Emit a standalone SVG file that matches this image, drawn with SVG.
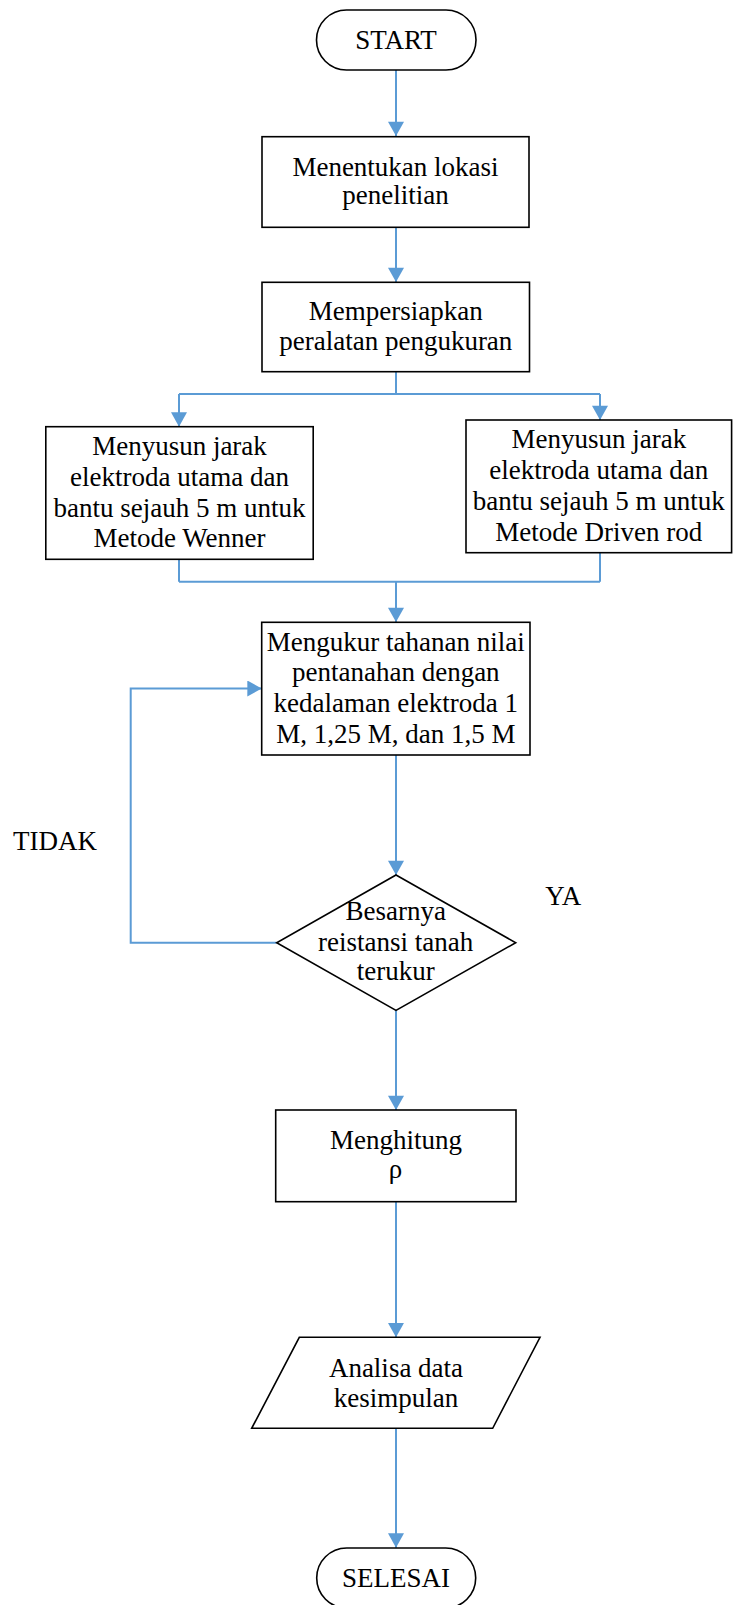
<svg xmlns="http://www.w3.org/2000/svg" width="733" height="1605" viewBox="0 0 733 1605">
<style>
.s{fill:#fff;stroke:#000;stroke-width:1.6}
.t{font-family:"Liberation Serif","Times New Roman",serif;font-size:27px;fill:#000;text-anchor:middle}
.c{fill:none;stroke:#5B9BD5;stroke-width:2}
</style>
<defs>
<marker id="ah" markerUnits="userSpaceOnUse" markerWidth="15" markerHeight="16" refX="14" refY="7.8" orient="auto" viewBox="0 0 14 15.6">
<path d="M0,0 L14,7.8 L0,15.6 z" fill="#5B9BD5"/>
</marker>
</defs>
<rect width="733" height="1605" fill="#fff"/>
<g id="connectors">
<line class="c" x1="396" y1="70" x2="396" y2="136" marker-end="url(#ah)"/>
<line class="c" x1="396" y1="228" x2="396" y2="282" marker-end="url(#ah)"/>
<line class="c" x1="396" y1="372" x2="396" y2="394"/>
<line class="c" x1="179" y1="394" x2="600" y2="394"/>
<line class="c" x1="179" y1="394" x2="179" y2="426.7" marker-end="url(#ah)"/>
<line class="c" x1="600" y1="394" x2="600" y2="420" marker-end="url(#ah)"/>
<line class="c" x1="179" y1="559.3" x2="179" y2="581.7"/>
<line class="c" x1="600" y1="552.7" x2="600" y2="581.7"/>
<line class="c" x1="179" y1="581.7" x2="600" y2="581.7"/>
<line class="c" x1="396" y1="581.7" x2="396" y2="622" marker-end="url(#ah)"/>
<line class="c" x1="396" y1="755" x2="396" y2="875" marker-end="url(#ah)"/>
<polyline class="c" points="276.7,942.7 130.7,942.7 130.7,688.5 261.7,688.5" marker-end="url(#ah)"/>
<line class="c" x1="396" y1="1010" x2="396" y2="1110" marker-end="url(#ah)"/>
<line class="c" x1="396" y1="1201.7" x2="396" y2="1337.3" marker-end="url(#ah)"/>
<line class="c" x1="396" y1="1428.3" x2="396" y2="1547.7" marker-end="url(#ah)"/>
</g>
<g id="start">
<rect class="s" x="316.5" y="10" width="159.5" height="60" rx="30" ry="30"/>
<text class="t" x="396" y="48.5">START</text>
</g>
<g id="lokasi">
<rect class="s" x="262" y="136.7" width="267" height="90.6"/>
<text class="t" x="395.5" y="175.7">Menentukan lokasi</text>
<text class="t" x="395.5" y="204">penelitian</text>
</g>
<g id="persiapan">
<rect class="s" x="262" y="282.3" width="267.5" height="89.4"/>
<text class="t" x="395.8" y="320">Mempersiapkan</text>
<text class="t" x="395.8" y="350">peralatan pengukuran</text>
</g>
<g id="wenner">
<rect class="s" x="45.8" y="426.7" width="267.4" height="132.6"/>
<text class="t" x="179.5" y="455">Menyusun jarak</text>
<text class="t" x="179.5" y="485.7">elektroda utama dan</text>
<text class="t" x="179.5" y="516.7">bantu sejauh 5 m untuk</text>
<text class="t" x="179.5" y="546.7">Metode Wenner</text>
</g>
<g id="driven">
<rect class="s" x="466" y="420" width="265.6" height="132.7"/>
<text class="t" x="598.8" y="448.3">Menyusun jarak</text>
<text class="t" x="598.8" y="479">elektroda utama dan</text>
<text class="t" x="598.8" y="510">bantu sejauh 5 m untuk</text>
<text class="t" x="598.8" y="540.7">Metode Driven rod</text>
</g>
<g id="mengukur">
<rect class="s" x="261.7" y="622.3" width="268.3" height="132.7"/>
<text class="t" x="395.8" y="650.7">Mengukur tahanan nilai</text>
<text class="t" x="395.8" y="681">pentanahan dengan</text>
<text class="t" x="395.8" y="711.7">kedalaman elektroda 1</text>
<text class="t" x="395.8" y="742.7">M, 1,25 M, dan 1,5 M</text>
</g>
<g id="keputusan">
<polygon class="s" points="396,875 515.7,942.7 396,1010.4 276.7,942.7"/>
<text class="t" x="395.7" y="920">Besarnya</text>
<text class="t" x="395.7" y="950.7">reistansi tanah</text>
<text class="t" x="395.7" y="980">terukur</text>
</g>
<g id="label-ya">
<text class="t" x="563.3" y="905">YA</text>
</g>
<g id="label-tidak">
<text class="t" x="55" y="850">TIDAK</text>
</g>
<g id="menghitung">
<rect class="s" x="275.7" y="1110" width="240.3" height="91.7"/>
<text class="t" x="396" y="1149.3">Menghitung</text>
<text class="t" x="395.5" y="1178.3">ρ</text>
</g>
<g id="analisa">
<polygon class="s" points="299.3,1337.3 540,1337.3 492.7,1428.3 251.7,1428.3"/>
<text class="t" x="396" y="1376.7">Analisa data</text>
<text class="t" x="396" y="1406.7">kesimpulan</text>
</g>
<g id="selesai">
<rect class="s" x="316.7" y="1548" width="159" height="60" rx="30" ry="30"/>
<text class="t" x="396" y="1586.7">SELESAI</text>
</g>
</svg>
